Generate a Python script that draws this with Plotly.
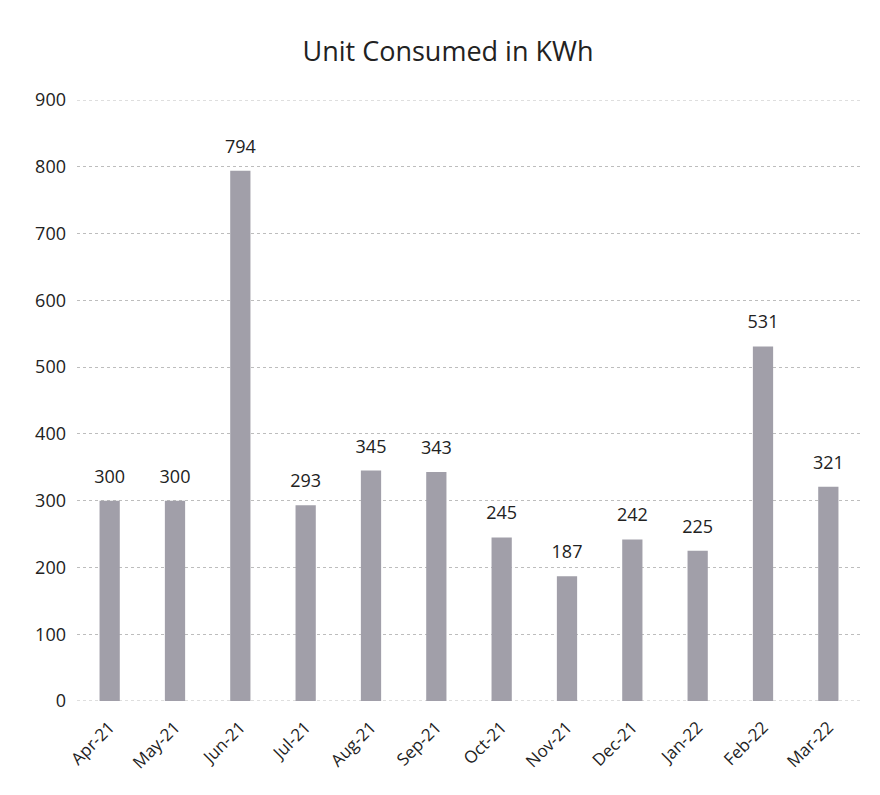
import plotly.graph_objects as go

months = ["Apr-21", "May-21", "Jun-21", "Jul-21", "Aug-21", "Sep-21",
          "Oct-21", "Nov-21", "Dec-21", "Jan-22", "Feb-22", "Mar-22"]
units = [300, 300, 794, 293, 345, 343, 245, 187, 242, 225, 531, 321]
y_ticks = [0, 100, 200, 300, 400, 500, 600, 700, 800, 900]

font_family = "Open Sans, Noto Sans, sans-serif"
grid_color = "#bdbdbd"

fig = go.Figure()
fig.add_trace(go.Bar(
    x=months, y=units,
    marker=dict(color="#a19fa9", line=dict(width=0)),
    hoverinfo="x+y",
))
fig.add_trace(go.Scatter(
    x=months, y=units, mode="markers+text",
    marker=dict(size=20, color="rgba(0,0,0,0)"),
    text=[str(v) for v in units],
    textposition="top center",
    textfont=dict(size=18, color="#222222", family=font_family),
    cliponaxis=False, hoverinfo="skip",
))

fig.update_layout(
    width=880, height=795,
    paper_bgcolor="white", plot_bgcolor="white",
    margin=dict(l=69, r=27, t=92, b=102, autoexpand=False),
    title=dict(text="Unit Consumed in KWh", x=0.5, xanchor="center",
               y=0.945, yanchor="middle",
               font=dict(size=27, color="#222222", family=font_family)),
    bargap=0.69,
    showlegend=False,
    xaxis=dict(tickangle=-45, automargin=False, range=[-0.5, 11.5],
               tickfont=dict(size=17, color="#222222", family=font_family),
               ticklabelstandoff=12,
               showline=False, ticks=""),
    yaxis=dict(range=[0, 900], tickvals=y_ticks, showgrid=True, automargin=False,
               gridcolor=grid_color, griddash="dot", gridwidth=1,
               zeroline=False, ticks="", ticklen=0, ticklabelstandoff=10,
               tickfont=dict(size=18, color="#222222", family=font_family)),
)
for yv in (0, 900):
    fig.add_shape(type="line", xref="paper", yref="y", x0=0, x1=1, y0=yv, y1=yv,
                  line=dict(color=grid_color, width=1, dash="dot"), layer="below")

fig.write_html("out.html")
